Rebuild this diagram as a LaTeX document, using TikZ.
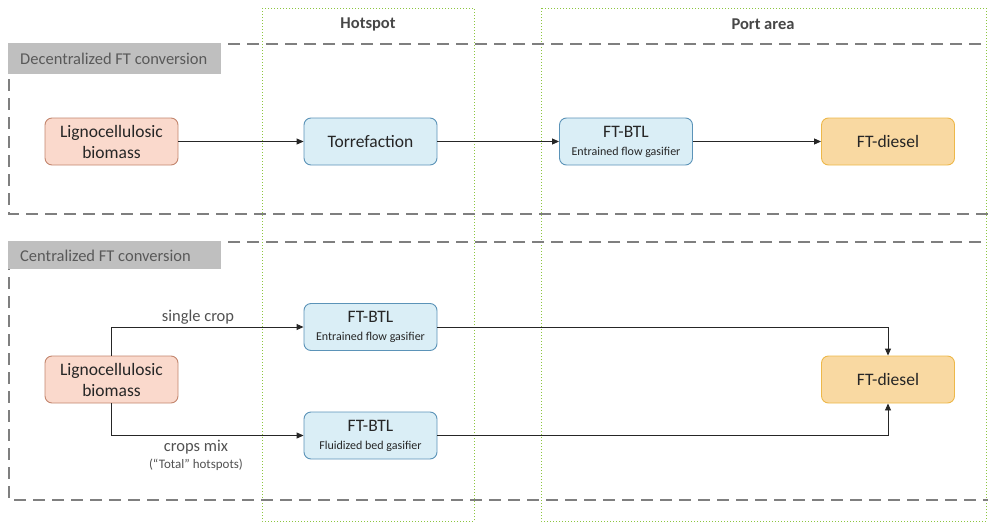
\documentclass[tikz,border=0pt]{standalone}
\usepackage{fontspec}
\setmainfont{Carlito}
\usetikzlibrary{arrows.meta}
\newcommand\subtxt{\fontsize{12}{14}\selectfont}
\definecolor{dashgray}{HTML}{7F7F7F}
\definecolor{labfill}{HTML}{BFBFBF}
\definecolor{labtext}{HTML}{595959}
\definecolor{zonegreen}{HTML}{8CC63F}
\definecolor{bioFill}{HTML}{FAD9CC}
\definecolor{bioDraw}{HTML}{C3866E}
\definecolor{procFill}{HTML}{DAEEF6}
\definecolor{procDraw}{HTML}{5B93B8}
\definecolor{dieselFill}{HTML}{F9D9A2}
\definecolor{dieselDraw}{HTML}{EDB84A}
\definecolor{txt}{HTML}{262626}
\tikzset{
  x=1pt, y=-1pt,
  zone/.style={draw=zonegreen, line width=1pt, dotted},
  sectionbox/.style={draw=dashgray, line width=2.8pt, dash pattern=on 12pt off 7pt},
  labbg/.style={fill=labfill},
  seclabel/.style={text=labtext, font=\fontsize{16.5}{19}\selectfont, anchor=west, inner sep=0pt},
  zonelabel/.style={font=\bfseries\fontsize{16.5}{19}\selectfont, text=labtext!80!black},
  boxbase/.style={rounded corners=7pt, line width=0.9pt, minimum width=133pt, minimum height=47pt, align=center, inner sep=0pt, text=txt, font=\fontsize{17.5}{21}\selectfont},
  biobox/.style={boxbase, fill=bioFill, draw=bioDraw},
  procbox/.style={boxbase, fill=procFill, draw=procDraw},
  dieselbox/.style={boxbase, fill=dieselFill, draw=dieselDraw},
  conn/.style={draw=black!85, line width=0.9pt, -{Triangle[length=7pt,width=6pt]}},
  edgelabel/.style={text=txt!80, font=\fontsize{16.5}{19}\selectfont}
}
\begin{document}
\begin{tikzpicture}
\useasboundingbox (0,0) rectangle (988,525);
\begin{scope}
\clip (0,0) rectangle (988,525);
% zones
\draw[zone] (262,8) rectangle (474,521);
\draw[zone] (541,8) rectangle (986,521);
\node[zonelabel] (hot) at (368,24) {Hotspot};
\node[zonelabel] (port) at (763,24) {Port area};
% sections
\draw[sectionbox] (1000,44) -- (9,44) -- (9,214) -- (1000,214);
\draw[sectionbox] (1000,242) -- (9,242) -- (9,500) -- (1000,500);
\fill[labbg] (7.6,43) rectangle (221,74);
\fill[labbg] (7.6,241) rectangle (221,269);
\node[seclabel] (declab) at (20,59) {Decentralized FT conversion};
\node[seclabel] (cenlab) at (20,256) {Centralized FT conversion};
\end{scope}
% top row
\node[biobox] (bio1) at (111.5,141.5) {Lignocellulosic\\biomass};
\node[procbox] (torr) at (370.5,141.5) {Torrefaction};
\node[procbox] (ftb1) at (626,141.5) {FT-BTL\\[-3pt]{\subtxt Entrained flow gasifier}};
\node[dieselbox] (die1) at (888,141.5) {FT-diesel};
\draw[conn] (bio1) -- (torr);
\draw[conn] (torr) -- (ftb1);
\draw[conn] (ftb1) -- (die1);
% bottom
\node[biobox] (bio2) at (111.5,379.5) {Lignocellulosic\\biomass};
\node[procbox] (ftb2) at (370.5,327) {FT-BTL\\[-3pt]{\subtxt Entrained flow gasifier}};
\node[procbox] (ftb3) at (370.5,435.5) {FT-BTL\\[-3pt]{\subtxt Fluidized bed gasifier}};
\node[dieselbox] (die2) at (888,379.5) {FT-diesel};
\draw[conn] (bio2.north) |- (ftb2.west);
\draw[conn] (bio2.south) |- (ftb3.west);
\draw[conn] (ftb2.east) -| (die2.north);
\draw[conn] (ftb3.east) -| (die2.south);
\node[edgelabel] (lab1) at (198,317) {single crop};
\node[edgelabel, align=center] (lab2) at (196,455) {crops mix\\[-2pt]{\fontsize{13}{15}\selectfont (“Total” hotspots)}};
\end{tikzpicture}
\end{document}
